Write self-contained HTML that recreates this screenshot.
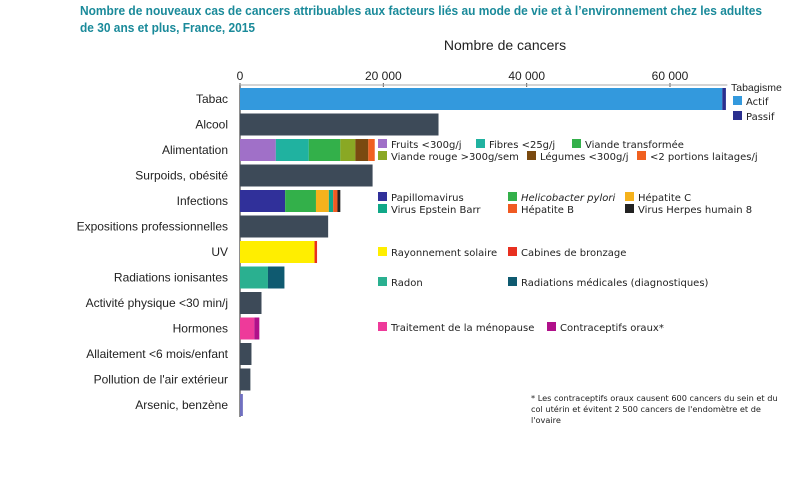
<!DOCTYPE html>
<html><head><meta charset="utf-8">
<style>
html,body{margin:0;padding:0;background:#fff;}
svg{display:block;}
.lab{font-family:"Liberation Sans",sans-serif;font-size:12px;fill:#222;}
.leg{font-family:"DejaVu Sans",sans-serif;font-size:10px;fill:#222;}
</style></head>
<body>
<svg id="chart" width="809" height="490" viewBox="0 0 809 490">
<text x="80" y="15" textLength="682" lengthAdjust="spacingAndGlyphs" font-family="Liberation Sans,sans-serif" font-weight="bold" font-size="13" fill="#1a8a9a">Nombre de nouveaux cas de cancers attribuables aux facteurs liés au mode de vie et à l’environnement chez les adultes</text>
<text x="80" y="32" textLength="175" lengthAdjust="spacingAndGlyphs" font-family="Liberation Sans,sans-serif" font-weight="bold" font-size="13" fill="#1a8a9a">de 30 ans et plus, France, 2015</text>
<text x="505" y="50" text-anchor="middle" font-family="Liberation Sans,sans-serif" font-size="14" fill="#222">Nombre de cancers</text>
<g id="axis"></g>
<g id="bars"></g>
<g id="legends"></g>
<g font-family="DejaVu Sans,sans-serif" font-size="8.2" fill="#222">
<text x="531" y="401">* Les contraceptifs oraux causent 600 cancers du sein et du</text>
<text x="531" y="412">col utérin et évitent 2 500 cancers de l'endomètre et de</text>
<text x="531" y="423">l'ovaire</text>
</g>
</svg>
<script>
const categories=["Tabac","Alcool","Alimentation","Surpoids, obésité","Infections","Expositions professionnelles","UV","Radiations ionisantes","Activité physique <30 min/j","Hormones","Allaitement <6 mois/enfant","Pollution de l'air extérieur","Arsenic, benzène"];
const tabacValues=[67300,500];
const alcoolValues=[27700];
const alimentationValues=[5000,4600,4400,2100,1800,900];
const surpoidsValues=[18500];
const infectionsValues=[6300,4300,1800,600,600,400];
const exposValues=[12300];
const uvValues=[10400,350];
const radiationsValues=[3900,2300];
const activiteValues=[3000];
const hormonesValues=[2000,700];
const allaitementValues=[1600];
const pollutionValues=[1450];
const arsenicValues=[400];
const xTicks=[0,20000,40000,60000];
const xTickLabels=["0","20 000","40 000","60 000"];

const seriesValues=[tabacValues,alcoolValues,alimentationValues,surpoidsValues,infectionsValues,exposValues,uvValues,radiationsValues,activiteValues,hormonesValues,allaitementValues,pollutionValues,arsenicValues];
const DARK="#3d4a58";
const colors=[["#3399dd","#2a2f8f"],[DARK],["#a070c8","#20b2a0","#33b04a","#8aa824","#7a4a10","#f06020"],[DARK],["#30309a","#33b04a","#f5b21c","#10a888","#f05a22","#222222"],[DARK],["#ffee00","#e83020"],["#2ab090","#0f5a70"],[DARK],["#ee3a9a","#b0108a"],[DARK],[DARK],["#7070c0"]];
const NS="http://www.w3.org/2000/svg";
const X0=240,PXK=430/60000;
function xs(v){return X0+v*PXK;}
function yc(i){return 99+i*25.5;}
const BH=22;
function mk(tag,attrs,parent){const e=document.createElementNS(NS,tag);for(const k in attrs)e.setAttribute(k,attrs[k]);parent.appendChild(e);return e;}
const axis=document.getElementById('axis');
const bars=document.getElementById('bars');
const legends=document.getElementById('legends');
xTicks.forEach((t,i)=>{
  const tx=mk('text',{x:xs(t),y:80,'text-anchor':'middle','font-family':'Liberation Sans,sans-serif','font-size':12,fill:'#222'},axis);
  tx.textContent=xTickLabels[i];
  
  
  const tk=mk('line',{x1:xs(t),x2:xs(t),y1:83,y2:87,stroke:'#555'},axis);
  
  
});
const ax=mk('line',{x1:X0,x2:X0,y1:85,y2:417,stroke:'#444','stroke-width':1.2},axis);


const ax2=mk('line',{x1:X0,x2:xs(68000),y1:85,y2:85,stroke:'#aaa','stroke-width':1},axis);


categories.forEach((c,i)=>{
  const t=mk('text',{x:228,y:yc(i)+4,'text-anchor':'end',class:'lab'},axis);
  t.textContent=c;
  
  
  let acc=0;
  seriesValues[i].forEach((v,j)=>{
    const r=mk('rect',{x:xs(acc),y:yc(i)-BH/2,width:Math.max(0,xs(acc+v)-xs(acc)),height:BH,fill:colors[i][j]},bars);
    
    
    acc+=v;
  });
});
const legendItems=[
 ["Fruits <300g/j",378,144,"#a070c8"],["Fibres <25g/j",476,144,"#20b2a0"],["Viande transformée",572,144,"#33b04a"],
 ["Viande rouge >300g/sem",378,156,"#8aa824"],["Légumes <300g/j",527,156,"#7a4a10"],["<2 portions laitages/j",637,156,"#f06020"],
 ["Papillomavirus",378,197,"#30309a"],["Helicobacter pylori",508,197,"#33b04a"],["Hépatite C",625,197,"#f5b21c"],
 ["Virus Epstein Barr",378,209,"#10a888"],["Hépatite B",508,209,"#f05a22"],["Virus Herpes humain 8",625,209,"#222222"],
 ["Rayonnement solaire",378,252,"#ffee00"],["Cabines de bronzage",508,252,"#e83020"],
 ["Radon",378,282,"#2ab090"],["Radiations médicales (diagnostiques)",508,282,"#0f5a70"],
 ["Traitement de la ménopause",378,327,"#ee3a9a"],["Contraceptifs oraux*",547,327,"#b0108a"],
 ["Actif",733,101,"#3399dd"],["Passif",733,116,"#2a2f8f"]];
legendItems.forEach(l=>{
  const g=mk('g',{},legends);
  
  
  mk('rect',{x:l[1],y:l[2]-5,width:9,height:9,fill:l[3]},g);
  const t=mk('text',{x:l[1]+13,y:l[2]+4,class:'leg'},g);
  if(l[0]==="Helicobacter pylori")t.setAttribute('font-style','italic');
  t.textContent=l[0];
});
const tg=mk('text',{x:731,y:91,'font-family':'Liberation Sans,sans-serif','font-size':10.5,fill:'#222'},legends);
tg.textContent="Tabagisme";


</script>
</body></html>
